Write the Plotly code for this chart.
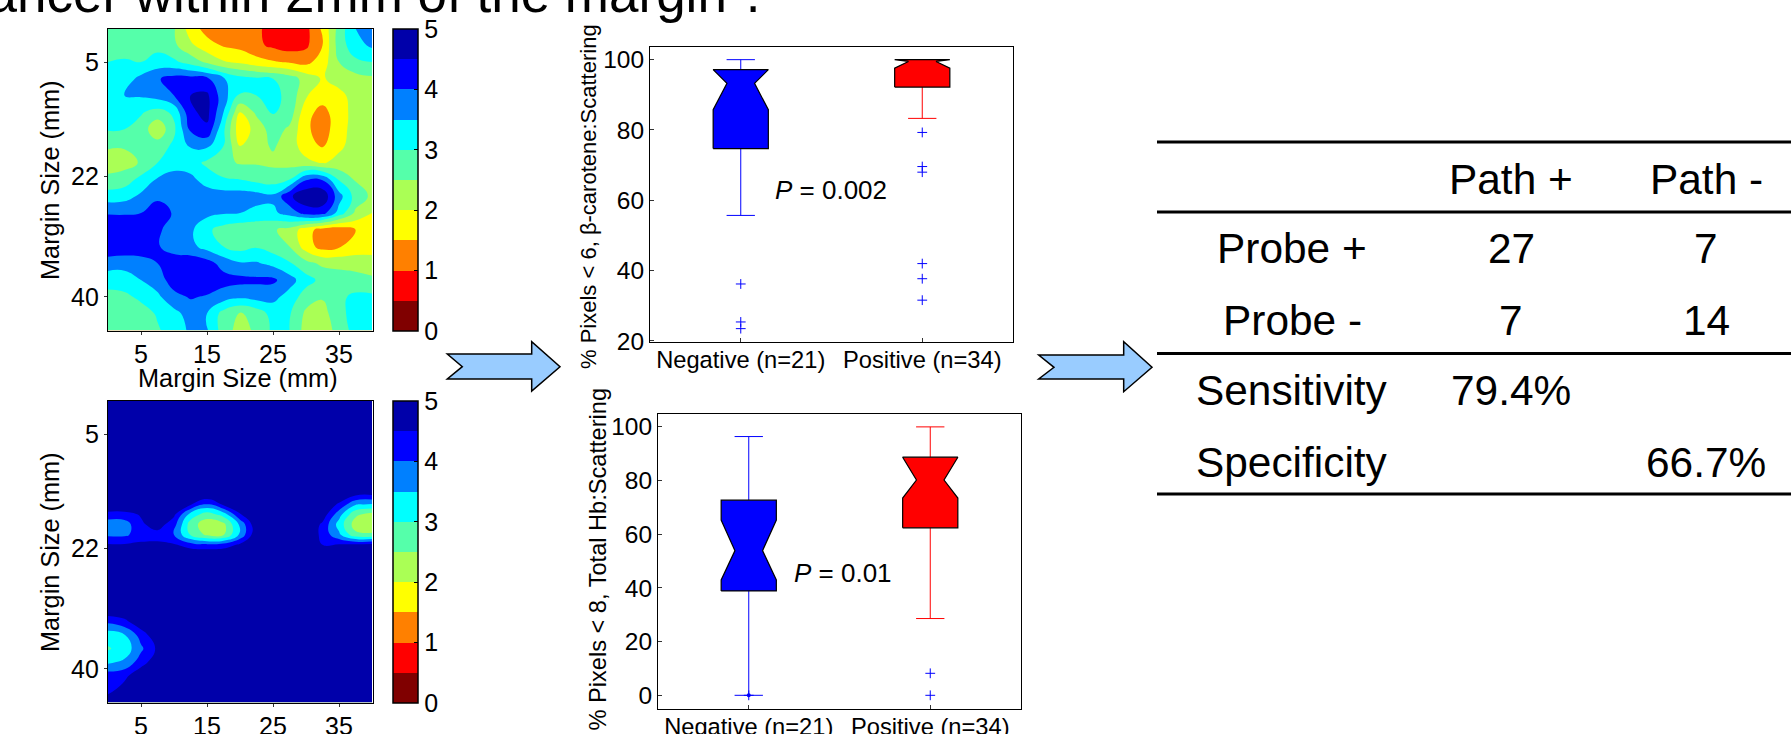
import plotly.graph_objects as go

W, H = 1791, 734
FONT = "Liberation Sans"

# ---- data ----
margin_x = [0, 2.5, 5, 7.5, 10, 12.5, 15, 17.5, 20, 22.5, 25, 27.5, 30, 32.5, 35, 37.5, 40]
heat1_y = [0, 2.5, 5, 7.5, 10, 12.5, 15, 17.5, 20, 22.5, 25, 27.5, 30, 32.5, 35, 37.5, 40, 42.5, 45]
heat1_z = [
    [2.75,2.75,2.75,2.7,2.55,1.75,1.3,1.2,1.15,1.05,0.9,0.7,0.85,1.6,2.7,3.5,3.7],
    [2.8,2.8,2.85,2.85,2.6,2.1,1.7,1.45,1.35,1.1,0.9,0.75,0.9,1.5,2.75,3.3,3.6],
    [3.0,3.05,3.0,3.2,3.1,2.8,2.4,2.05,1.9,1.7,1.55,1.45,1.35,1.75,2.5,2.9,3.0],
    [3.1,3.25,3.65,3.95,4.2,4.2,4.1,3.55,3.2,3.1,3.0,2.75,2.3,1.95,2.2,2.3,2.4],
    [3.1,3.5,3.55,3.7,4.0,4.5,4.6,3.7,2.95,3.0,3.15,2.85,2.05,1.7,1.85,2.2,2.3],
    [3.1,3.2,3.05,2.8,3.1,4.4,4.65,3.5,2.0,2.6,3.05,2.8,1.65,1.35,1.75,2.2,2.3],
    [3.05,3.0,2.8,2.1,2.9,4.1,4.4,3.1,1.65,2.2,2.75,2.4,1.6,1.25,1.8,2.2,2.3],
    [2.55,2.55,2.7,2.75,3.1,3.55,3.6,3.0,2.0,2.35,2.55,2.3,1.7,1.45,1.9,2.2,2.3],
    [2.3,2.3,2.55,3.0,3.3,3.2,2.9,2.65,2.45,2.45,2.4,2.3,2.15,1.95,2.15,2.3,2.35],
    [2.6,2.75,3.15,3.55,3.7,3.65,3.25,3.05,3.0,2.85,2.75,3.0,3.95,3.95,2.95,2.45,2.35],
    [3.25,3.3,3.6,3.9,3.95,3.85,3.8,3.75,3.75,3.7,3.6,4.4,4.9,4.9,3.7,2.8,2.4],
    [3.95,3.95,4.0,4.25,3.95,3.7,3.65,3.55,3.5,3.35,3.4,3.7,4.2,4.2,3.3,2.4,2.0],
    [4.5,4.4,4.35,4.1,3.75,3.6,3.1,2.8,2.65,2.65,2.55,2.35,1.7,1.3,1.2,1.5,1.85],
    [4.4,4.35,4.3,4.05,3.75,3.65,3.3,3.0,2.8,2.95,2.75,2.5,1.75,1.3,1.45,1.7,1.8],
    [3.75,3.7,3.8,4.0,4.3,4.3,4.2,3.8,3.55,3.55,3.35,3.05,2.65,2.4,2.35,2.3,2.2],
    [3.2,3.25,3.5,3.75,4.25,4.4,4.35,4.2,4.15,4.1,4.1,3.7,3.2,2.85,2.75,2.7,2.6],
    [2.85,2.9,3.1,3.4,3.85,4.05,3.95,3.75,3.6,3.7,3.65,3.3,2.75,2.55,2.9,3.1,3.1],
    [2.75,2.75,2.8,3.05,3.35,3.7,3.5,2.8,2.45,2.7,3.2,3.05,2.4,2.3,2.85,3.2,3.2],
    [2.65,2.65,2.7,2.95,3.2,3.6,3.55,2.75,2.3,2.6,3.1,3.0,2.3,2.2,2.7,3.2,3.2],
]
heat2_y = [0, 12, 14, 15.5, 17, 18.5, 20, 21.5, 23, 31, 33, 35, 37, 39, 41, 43, 45]
heat2_z = [
    [5]*17,
    [5]*17,
    [5,5,5,5,5,5,5,5,5,5,5,5,5,5,5,4.6,4.55],
    [5,5,5,5,5,4.55,3.9,4.6,5,5,5,5,5,5,4.4,3.55,3.45],
    [4.3,4.3,4.55,5,4.6,3.3,2.75,3.2,4.45,5,5,5,5,4.8,3.7,2.6,2.3],
    [3.7,3.75,4.4,4.75,4.2,2.75,2.2,2.35,3.6,4.9,5,5,5,4.4,3.3,2.25,2.1],
    [3.9,3.9,4.25,4.3,4.0,2.95,2.4,2.45,3.6,4.9,5,5,5,4.35,3.6,2.65,2.6],
    [4.55,4.55,4.6,4.6,4.55,4.2,4.1,4.2,4.6,5,5,5,5,4.5,4.55,4.6,4.65],
    [5]*17,
    [5]*17,
    [4.1,4.35,4.9,5,5,5,5,5,5,5,5,5,5,5,5,5,5],
    [3.2,3.45,4.2,4.9,5,5,5,5,5,5,5,5,5,5,5,5,5],
    [2.95,3.2,3.9,4.6,5,5,5,5,5,5,5,5,5,5,5,5,5],
    [3.4,3.6,4.25,4.85,5,5,5,5,5,5,5,5,5,5,5,5,5],
    [4.25,4.35,4.9,5,5,5,5,5,5,5,5,5,5,5,5,5,5],
    [4.3,4.7,5,5,5,5,5,5,5,5,5,5,5,5,5,5,5],
    [4.8,5,5,5,5,5,5,5,5,5,5,5,5,5,5,5,5],
]
margin_ticks = [5, 15, 25, 35]
margin_yticks = [5, 22, 40]
band_colors = ["#800000", "#FF0000", "#FF8000", "#FFFF00", "#AAFF55",
               "#55FFAA", "#00FFFF", "#0080FF", "#0000FF", "#0000AA"]

groups = ["Negative (n=21)", "Positive (n=34)"]
group_pos = [1, 2]
# beta-carotene panel
a_q1 = [74.7, 92.2]
a_notch_lo = [85.75, 97.6]
a_median = [93.25, 99.5]
a_notch_hi = [97.15, 100]
a_q3 = [97.15, 100]
a_whisk_lo = [55.7, 83.3]
a_whisk_hi = [100, 100]
a_out_neg = [36.2, 25.4, 23.5]
a_out_pos = [79.3, 69.6, 68, 42, 37.7, 31.6]
# total Hb panel
b_q1 = [38.9, 62.4]
b_notch_lo = [43, 73.5]
b_median = [53.9, 80.2]
b_notch_hi = [65.3, 88.7]
b_q3 = [72.7, 88.7]
b_whisk_lo = [0, 28.6]
b_whisk_hi = [96.4, 100]
b_out_neg = [0]
b_out_pos = [8.2, 0]

table_header = ["Path +", "Path -"]
table_rows = ["Probe +", "Probe -", "Sensitivity", "Specificity"]
table_path_pos = ["27", "7", "79.4%", ""]
table_path_neg = ["7", "14", "", "66.7%"]

# ---- helpers (pixel geometry of the page) ----
def fx(px): return px / W
def fy(py): return 1 - py / H

colorscale = []
for i, c in enumerate(band_colors):
    colorscale += [[i / 10, c], [(i + 1) / 10, c]]

fig = go.Figure()

def add_heat(z, y, xa, ya, top, bottom):
    fig.add_trace(go.Contour(
        x=margin_x, y=y, z=z, xaxis=xa, yaxis=ya, zmin=0, zmax=5,
        autocontour=False, colorscale=colorscale,
        contours=dict(start=0.5, end=4.5, size=0.5, coloring="fill", showlines=False),
        line=dict(width=0, smoothing=1.3),
        colorbar=dict(x=fx(393), xanchor="left", xpad=0, ypad=0, y=fy(top), yanchor="top",
                      len=(bottom - top) / H, lenmode="fraction", thickness=25, thicknessmode="pixels",
                      tick0=0, dtick=1, ticks="inside", ticklen=4, tickcolor="black",
                      tickfont=dict(family=FONT, size=25, color="black"),
                      outlinecolor="black", outlinewidth=1.5, borderwidth=0),
        showlegend=False))

def add_box(i, q1, nlo, med, nhi, q3, wlo, whi, xa, ya, color):
    p = group_pos[i]
    hw, cap, nw = 0.152, 0.078, 0.076
    fig.add_trace(go.Scatter(
        x=[p, p, None, p, p, None, p - cap, p + cap, None, p - cap, p + cap],
        y=[q3[i], whi[i], None, q1[i], wlo[i], None, whi[i], whi[i], None, wlo[i], wlo[i]],
        mode="lines", line=dict(color=color, width=1), xaxis=xa, yaxis=ya, showlegend=False))
    fig.add_trace(go.Scatter(
        x=[p - hw, p - hw, p - nw, p - hw, p - hw, p + hw, p + hw, p + nw, p + hw, p + hw, p - hw],
        y=[q1[i], nlo[i], med[i], nhi[i], q3[i], q3[i], nhi[i], med[i], nlo[i], q1[i], q1[i]],
        mode="lines", fill="toself", fillcolor=color, line=dict(color="black", width=1.2),
        xaxis=xa, yaxis=ya, showlegend=False))

def add_outliers(i, vals, xa, ya):
    fig.add_trace(go.Scatter(
        x=[group_pos[i]] * len(vals), y=vals, mode="markers", xaxis=xa, yaxis=ya, showlegend=False,
        marker=dict(symbol="cross-thin", size=7, line=dict(color="#0000FF", width=1), color="#0000FF")))

add_heat(heat1_z, heat1_y, "x", "y", 29, 331)
add_heat(heat2_z, heat2_y, "x2", "y2", 401, 703)

for i, c in enumerate(["#0000FF", "#FF0000"]):
    add_box(i, a_q1, a_notch_lo, a_median, a_notch_hi, a_q3, a_whisk_lo, a_whisk_hi, "x3", "y3", c)
    add_box(i, b_q1, b_notch_lo, b_median, b_notch_hi, b_q3, b_whisk_lo, b_whisk_hi, "x4", "y4", c)
add_outliers(0, a_out_neg, "x3", "y3")
add_outliers(1, a_out_pos, "x3", "y3")
add_outliers(0, b_out_neg, "x4", "y4")
add_outliers(1, b_out_pos, "x4", "y4")
fig.add_trace(go.Scatter(x=[group_pos[0]], y=b_out_neg, mode="markers", xaxis="x4", yaxis="y4",
                         marker=dict(symbol="circle", size=4, color="#0000FF"), showlegend=False))

tf = dict(family=FONT, size=25, color="black")
heat_x = dict(range=[0, 40.15], tickvals=margin_ticks, ticks="outside", ticklen=3, tickcolor="#333333",
              mirror=True, showline=True, linecolor="black", linewidth=1.2, showgrid=False, zeroline=False,
              tickfont=tf, ticklabelstandoff=-2)
heat_y = dict(range=[45.1, 0.07], tickvals=margin_yticks, ticks="outside", ticklen=3, tickcolor="#333333",
              mirror=True, showline=True, linecolor="black", linewidth=1.2, showgrid=False, zeroline=False,
              tickfont=tf)
box_x = dict(range=[0.5, 2.5], tickvals=group_pos, ticktext=groups, ticks="inside", ticklen=4, tickcolor="#333333",
             mirror=True, showline=True, linecolor="black", linewidth=1, showgrid=False, zeroline=False,
             tickfont=dict(family=FONT, size=23.7, color="black"), ticklabelstandoff=-3)
box_y = dict(tickvals=[0, 20, 40, 60, 80, 100], ticks="inside", ticklen=4, tickcolor="#333333",
             mirror=True, showline=True, linecolor="black", linewidth=1, showgrid=False, zeroline=False,
             tickfont=dict(family=FONT, size=24.5, color="black"))

fig.update_layout(
    width=W, height=H, margin=dict(l=0, r=0, t=0, b=0, autoexpand=False),
    paper_bgcolor="white", plot_bgcolor="white", showlegend=False,
    xaxis=dict(heat_x, domain=[fx(108), fx(373)], anchor="y"),
    yaxis=dict(heat_y, domain=[fy(331), fy(29)], anchor="x"),
    xaxis2=dict(heat_x, domain=[fx(108), fx(373)], anchor="y2"),
    yaxis2=dict(heat_y, domain=[fy(703), fy(401)], anchor="x2"),
    xaxis3=dict(box_x, domain=[fx(650), fx(1013)], anchor="y3"),
    yaxis3=dict(box_y, domain=[fy(342), fy(47)], anchor="x3", range=[19.7, 103.6]),
    xaxis4=dict(box_x, domain=[fx(658), fx(1021)], anchor="y4"),
    yaxis4=dict(box_y, domain=[fy(709), fy(414)], anchor="x4", range=[-5.1, 104.8]),
)

def note(text, px, py, size, angle=0, xanchor="center", yanchor="middle"):
    fig.add_annotation(text=text, x=fx(px), y=fy(py), xref="paper", yref="paper", showarrow=False,
                       xanchor=xanchor, yanchor=yanchor, textangle=angle,
                       font=dict(family=FONT, size=size, color="black"))

note('cancer within 2mm of the margin".', -41, 13 + 12, 53, xanchor="left", yanchor="bottom")
note("Margin Size (mm)", 50, 180, 25.3, angle=-90)
note("Margin Size (mm)", 238, 378, 25.3)
note("Margin Size (mm)", 50, 552, 25.3, angle=-90)
note("% Pixels &lt; 6, β-carotene:Scattering", 588, 197, 22, angle=-90)
note("% Pixels &lt; 8, Total Hb:Scattering", 597, 559.5, 23.6, angle=-90)
note("<i>P</i> = 0.002", 831, 190, 26)
note("<i>P</i> = 0.01", 843, 573, 26)

col_pos = [1511, 1706]
for txt, px in zip(table_header, col_pos):
    note(txt, px, 179, 42.4)
row_y = [249, 320, 390, 462]
for lab, a, b, py in zip(table_rows, table_path_pos, table_path_neg, row_y):
    note(lab, 1292, py, 42.4)
    if a:
        note(a, col_pos[0], py, 42.4)
    if b:
        note(b, col_pos[1], py, 42.4)
for py in [142, 212, 353.5, 494]:
    fig.add_shape(type="line", xref="paper", yref="paper", x0=fx(1157), x1=1, y0=fy(py), y1=fy(py),
                  line=dict(color="black", width=3))

def arrow(x0, xn, xs, xt, yt, ys, yc, yb, yh):
    pts = [(x0, ys), (xs, ys), (xs, yt), (xt, yc), (xs, yh), (xs, yb), (x0, yb), (xn, yc)]
    path = "M " + " L ".join(f"{fx(a):.5f} {fy(b):.5f}" for a, b in pts) + " Z"
    fig.add_shape(type="path", xref="paper", yref="paper", path=path,
                  fillcolor="#99CCFF", line=dict(color="black", width=1.5))

arrow(447.3, 462.3, 531.7, 560, 341.7, 354, 366.7, 379, 391)
arrow(1038.7, 1054, 1123.7, 1152, 341.7, 355, 367.3, 379, 391.7)

fig.write_html("out.html", config=dict(displayModeBar=False),
               post_script="document.body.style.margin='0';document.body.style.overflow='hidden';")
